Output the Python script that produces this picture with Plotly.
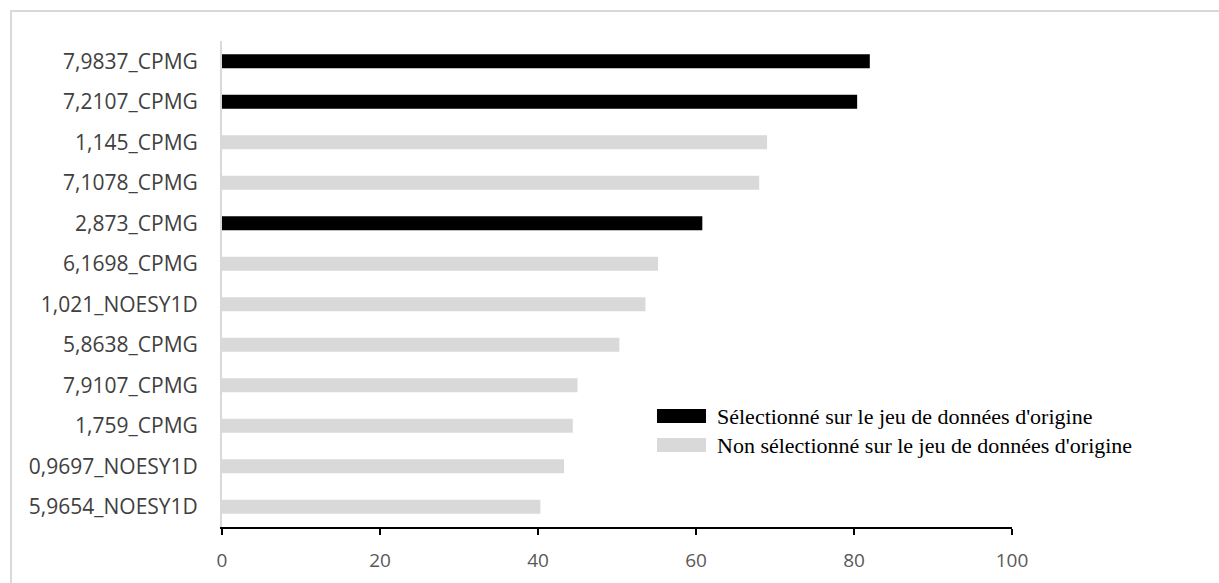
import plotly.graph_objects as go

# ---- data ----
categories = ["7,9837_CPMG", "7,2107_CPMG", "1,145_CPMG", "7,1078_CPMG", "2,873_CPMG",
              "6,1698_CPMG", "1,021_NOESY1D", "5,8638_CPMG", "7,9107_CPMG", "1,759_CPMG",
              "0,9697_NOESY1D", "5,9654_NOESY1D"]
values = [82.0, 80.4, 69.0, 68.0, 60.8, 55.2, 53.6, 50.3, 45.0, 44.4, 43.3, 40.3]
selected = [True, True, False, False, True, False, False, False, False, False, False, False]
legend_labels = ["Sélectionné sur le jeu de données d'origine",
                 "Non sélectionné sur le jeu de données d'origine"]
x_ticks = [0, 20, 40, 60, 80, 100]

# ---- layout geometry (pixels) ----
W, H = 1219, 583
L, R, T, B = 222, 1012, 41, 527

def px_x(p):
    return (p - L) / (R - L)

def px_y(p):
    return (B - p) / (B - T)

BLACK = "#000000"
GREY = "#d9d9d9"

sel_cat = [c for c, s in zip(categories, selected) if s]
sel_val = [v for v, s in zip(values, selected) if s]
non_cat = [c for c, s in zip(categories, selected) if not s]
non_val = [v for v, s in zip(values, selected) if not s]

fig = go.Figure()
fig.add_trace(go.Bar(y=non_cat, x=non_val, orientation="h", name=legend_labels[1],
                     marker=dict(color=GREY, line=dict(width=0)), width=0.35))
fig.add_trace(go.Bar(y=sel_cat, x=sel_val, orientation="h", name=legend_labels[0],
                     marker=dict(color=BLACK, line=dict(width=0)), width=0.35))

shapes = []
annotations = []
# outer border
shapes.append(dict(type="rect", xref="paper", yref="paper",
                   x0=px_x(11), x1=px_x(W + 20), y0=px_y(H + 20), y1=px_y(11),
                   line=dict(color="#d9d9d9", width=2), fillcolor="rgba(0,0,0,0)", layer="below"))
# manual legend
leg_rows = [(legend_labels[0], BLACK, 409, 423), (legend_labels[1], GREY, 438, 452)]
for text, col, y0, y1 in leg_rows:
    shapes.append(dict(type="rect", xref="paper", yref="paper",
                       x0=px_x(657), x1=px_x(706), y0=px_y(y1), y1=px_y(y0),
                       line=dict(width=0), fillcolor=col))
    annotations.append(dict(xref="paper", yref="paper", x=px_x(715), y=px_y((y0 + y1) / 2),
                            text=text, showarrow=False, xanchor="left", yanchor="middle",
                            font=dict(family="Liberation Serif", size=22, color="#000000")))

fig.update_layout(
    width=W, height=H,
    margin=dict(l=L, r=W - R, t=T, b=H - B, pad=0),
    paper_bgcolor="white", plot_bgcolor="white",
    barmode="overlay",
    showlegend=False,
    hovermode=False,
    shapes=shapes, annotations=annotations,
    xaxis=dict(range=[0, 100], tickvals=x_ticks, ticktext=[str(v) for v in x_ticks],
               automargin=False,
               showgrid=False, zeroline=False, showline=True, linecolor="#000000", linewidth=2,
               ticks="outside", ticklen=6, tickwidth=2, tickcolor="#000000",
               ticklabelstandoff=9,
               tickfont=dict(family="Open Sans", size=19, color="#595959")),
    yaxis=dict(categoryorder="array", categoryarray=categories[::-1],
               range=[-0.5, len(categories) - 0.5], automargin=False,
               showgrid=False, zeroline=False, showline=True, linecolor="#d9d9d9", linewidth=2,
               ticks="", ticklabelstandoff=18,
               tickfont=dict(family="Open Sans", size=21, color="#404040")),
)

fig.write_html("out.html", config={"displayModeBar": False},
               post_script="document.body.style.margin='0px';document.body.style.overflow='hidden';")
